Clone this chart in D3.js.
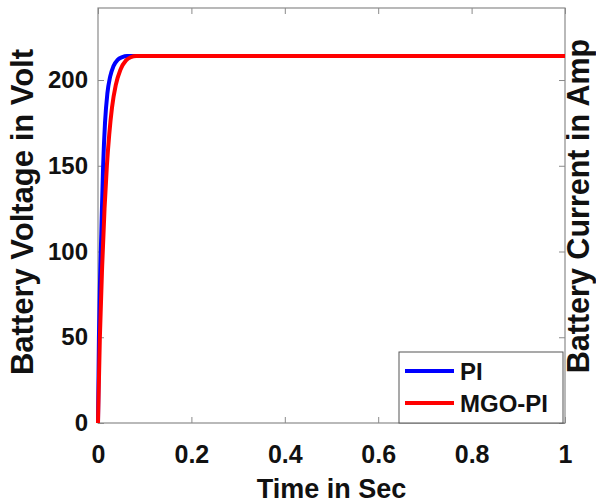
<!DOCTYPE html>
<html>
<head>
<meta charset="utf-8">
<script src="https://cdn.jsdelivr.net/npm/d3@7"></script>
<style>
  body { margin: 0; background: #fff; }
  svg text { font-family: "Liberation Sans", Arial, sans-serif; font-weight: bold; fill: #111; }
</style>
</head>
<body>
<svg id="chart" width="596" height="504"></svg>
<script>
// values
var timePI  = [0, 0.002, 0.0045, 0.007, 0.011, 0.015, 0.02, 0.026, 0.033, 0.042, 0.052, 0.062, 0.1, 1];
var voltPI  = [0, 50, 85, 110, 150, 175, 192, 202, 208, 211.8, 213.4, 214, 214, 214];
var timeMGO = [0, 0.004, 0.009, 0.014, 0.019, 0.024, 0.03, 0.038, 0.048, 0.06, 0.07, 0.082, 0.12, 1];
var voltMGO = [0, 50, 92, 125, 150, 168, 184, 197, 206, 211.5, 213.3, 214, 214, 214];
var xTicks = [0, 0.2, 0.4, 0.6, 0.8, 1];
var yTicks = [0, 50, 100, 150, 200];
var seriesNames = ["PI", "MGO-PI"];
var seriesColors = ["#0000ff", "#ff0000"];

var plotL = 98, plotR = 565, plotT = 8, plotB = 423;

var svg = d3.select("#chart");

var x = d3.scaleLinear().domain([0, 1]).range([plotL, plotR]);
var y = d3.scaleLinear().domain([0, 242]).range([plotB, plotT]);

// axes box with inward ticks on all four sides
var axisColor = "#8a8a8a";
function styleAxis(g) {
    g.select(".domain").remove();
    g.selectAll(".tick line").attr("stroke", axisColor).attr("stroke-width", 1);
}

svg.append("g")
    .attr("transform", "translate(0," + plotB + ")")
    .call(d3.axisBottom(x).tickValues(xTicks).tickSize(-6).tickPadding(22).tickFormat(d3.format("~g")))
    .call(styleAxis)
    .selectAll("text").attr("font-size", 25).attr("fill", "#111").attr("font-family", null);

svg.append("g")
    .attr("transform", "translate(0," + plotT + ")")
    .call(d3.axisTop(x).tickValues(xTicks).tickSize(-6).tickFormat(""))
    .call(styleAxis);

svg.append("g")
    .attr("transform", "translate(" + plotL + ",0)")
    .call(d3.axisLeft(y).tickValues(yTicks).tickSize(-6).tickPadding(10))
    .call(styleAxis)
    .selectAll("text").attr("font-size", 24).attr("fill", "#111").attr("font-family", null);

svg.append("g")
    .attr("transform", "translate(" + plotR + ",0)")
    .call(d3.axisRight(y).tickValues(yTicks).tickSize(-6).tickFormat(""))
    .call(styleAxis);

svg.append("rect")
    .attr("x", plotL).attr("y", plotT)
    .attr("width", plotR - plotL).attr("height", plotB - plotT)
    .attr("fill", "none").attr("stroke", axisColor).attr("stroke-width", 1.2);

// curves
var line = d3.line()
    .x(function(d) { return x(d[0]); })
    .y(function(d) { return y(d[1]); })
    .curve(d3.curveMonotoneX);

var series = [d3.zip(timePI, voltPI), d3.zip(timeMGO, voltMGO)];

svg.selectAll("path.curve")
    .data(series)
    .enter()
    .append("path")
    .attr("class", "curve")
    .attr("d", line)
    .attr("fill", "none")
    .attr("stroke", function(d, i) { return seriesColors[i]; })
    .attr("stroke-width", 4)
    .attr("stroke-linejoin", "round");

// legend
var legend = svg.append("g").attr("transform", "translate(399,352)");
legend.append("rect")
    .attr("width", 164).attr("height", 71)
    .attr("fill", "#fff").attr("stroke", "#555").attr("stroke-width", 1);

var item = legend.selectAll("g.item")
    .data(seriesNames)
    .enter()
    .append("g")
    .attr("class", "item")
    .attr("transform", function(d, i) { return "translate(0," + (19 + i * 32) + ")"; });

item.append("line")
    .attr("x1", 6).attr("x2", 55)
    .attr("stroke", function(d, i) { return seriesColors[i]; })
    .attr("stroke-width", 4);

item.append("text")
    .attr("x", 61).attr("dy", "0.36em")
    .attr("font-size", 24)
    .text(function(d) { return d; });

// axis titles
svg.append("text")
    .attr("x", (plotL + plotR) / 2).attr("y", 498)
    .attr("text-anchor", "middle")
    .attr("font-size", 27)
    .text("Time in Sec");

svg.append("text")
    .attr("transform", "translate(33,212) rotate(-90)")
    .attr("text-anchor", "middle")
    .attr("font-size", 31)
    .text("Battery Voltage in Volt");

svg.append("text")
    .attr("transform", "translate(589,206) rotate(-90)")
    .attr("text-anchor", "middle")
    .attr("font-size", 30.5)
    .text("Battery Current in Amp");
</script>
</body>
</html>
